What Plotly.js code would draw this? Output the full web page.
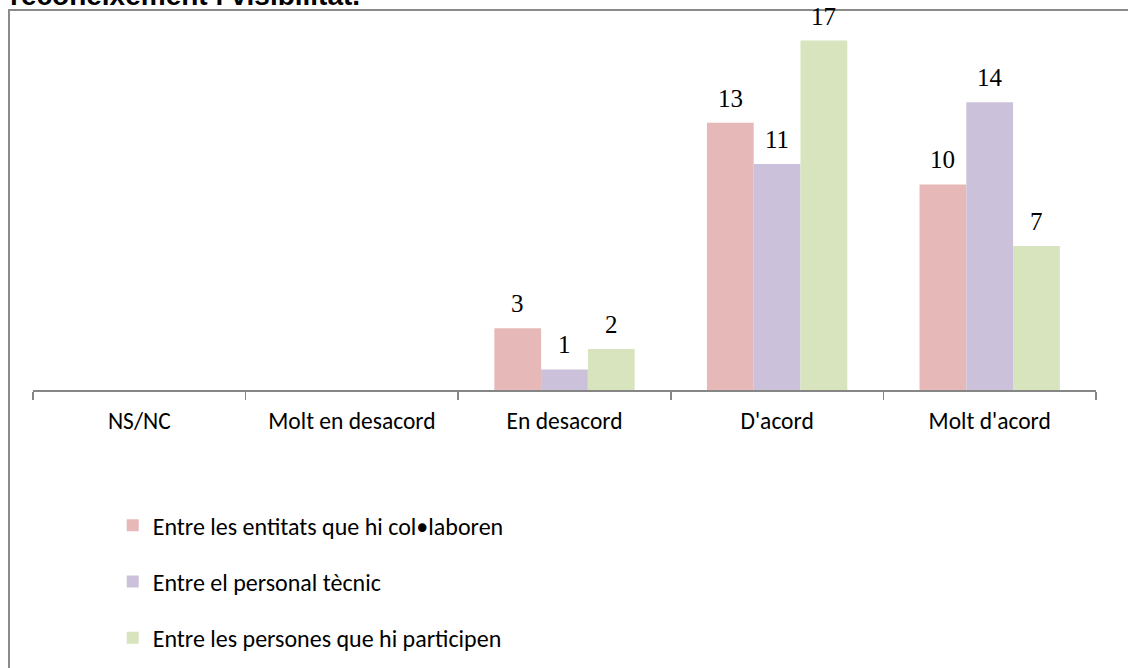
<!DOCTYPE html>
<html>
<head>
<meta charset="utf-8">
<script src="https://cdn.plot.ly/plotly-3.0.1.min.js"></script>
<style>
  html, body { margin: 0; padding: 0; background: #ffffff; }
  #frame { position: absolute; left: 8px; top: 9px; width: 1200px; height: 700px;
           border-left: 2px solid #8a8a8a; border-top: 2px solid #8a8a8a; }
  #chart { position: absolute; left: 0; top: 0; width: 1128px; height: 668px; }
</style>
</head>
<body>
<div id="frame"></div>
<div id="chart"></div>
<script>
const categories = ["NS/NC", "Molt en desacord", "En desacord", "D'acord", "Molt d'acord"];
const seriesNames = [
  "Entre les entitats que hi col\u2022laboren",
  "Entre el personal tècnic",
  "Entre les persones que hi participen"
];
const entitats = [0, 0, 3, 13, 10];
const personalTecnic = [0, 0, 1, 11, 14];
const persones = [0, 0, 2, 17, 7];
const titleText = "reconeixement i visibilitat.";

const seriesValues = [entitats, personalTecnic, persones];
const colors = ["#E6B9B8", "#CCC1DA", "#D7E4BD"];

const W = 1128, H = 668;
const margin = {l: 33, r: 32, t: 20, b: 278, autoexpand: false};
const bargap = 0.34;
const labelFont = "Carlito, Calibri, Lato, sans-serif";

const traces = seriesValues.map((vals, i) => ({
  type: "bar",
  name: seriesNames[i],
  x: categories,
  y: vals,
  marker: {color: colors[i], line: {width: 0}},
  legendgroup: "g" + i,
  hoverinfo: "skip"
}));

// data labels via annotations (bar value positions from the axes)
const plotW = W - margin.l - margin.r;
const catW = plotW / categories.length;
const barW = catW * (1 - bargap) / seriesValues.length;
const annotations = [];
seriesValues.forEach((vals, i) => {
  vals.forEach((v, j) => {
    if (!v) return;
    annotations.push({
      x: categories[j], y: v, xref: "x", yref: "y",
      xshift: (i - 1) * barW, yshift: 9,
      yanchor: "bottom", showarrow: false,
      text: String(v),
      font: {family: "Liberation Serif, serif", size: 25, color: "#000"}
    });
  });
});
annotations.push({
  x: 0, xref: "paper", xanchor: "left", xshift: -25,
  y: 1, yref: "paper", yanchor: "bottom", yshift: 7,
  text: "<b>" + titleText + "</b>", showarrow: false,
  font: {family: "Liberation Sans, Arial, sans-serif", size: 28, color: "#000"}
});

const layout = {
  width: W, height: H,
  margin: margin,
  paper_bgcolor: "rgba(0,0,0,0)",
  plot_bgcolor: "rgba(0,0,0,0)",
  barmode: "group",
  bargap: bargap,
  bargroupgap: 0,
  showlegend: true,
  legend: {
    orientation: "v", x: 0.075, xanchor: "left", y: -0.306, yanchor: "top",
    traceorder: "grouped", tracegroupgap: 22,
    font: {family: labelFont, size: 24, color: "#000"},
    bgcolor: "rgba(0,0,0,0)"
  },
  xaxis: {
    type: "category",
    showline: true, linecolor: "#868686", linewidth: 2,
    ticks: "outside", tickson: "boundaries", ticklen: 8, tickcolor: "#868686", tickwidth: 1.5,
    showgrid: false, zeroline: false,
    tickfont: {family: labelFont, size: 23.5, color: "#000"},
    ticklabelstandoff: 9,
    automargin: false,
    fixedrange: true
  },
  yaxis: {
    range: [0, 18], visible: false, showgrid: false, zeroline: false, fixedrange: true
  },
  annotations: annotations
};

Plotly.newPlot("chart", traces, layout, {displayModeBar: false, staticPlot: true});
</script>
</body>
</html>
